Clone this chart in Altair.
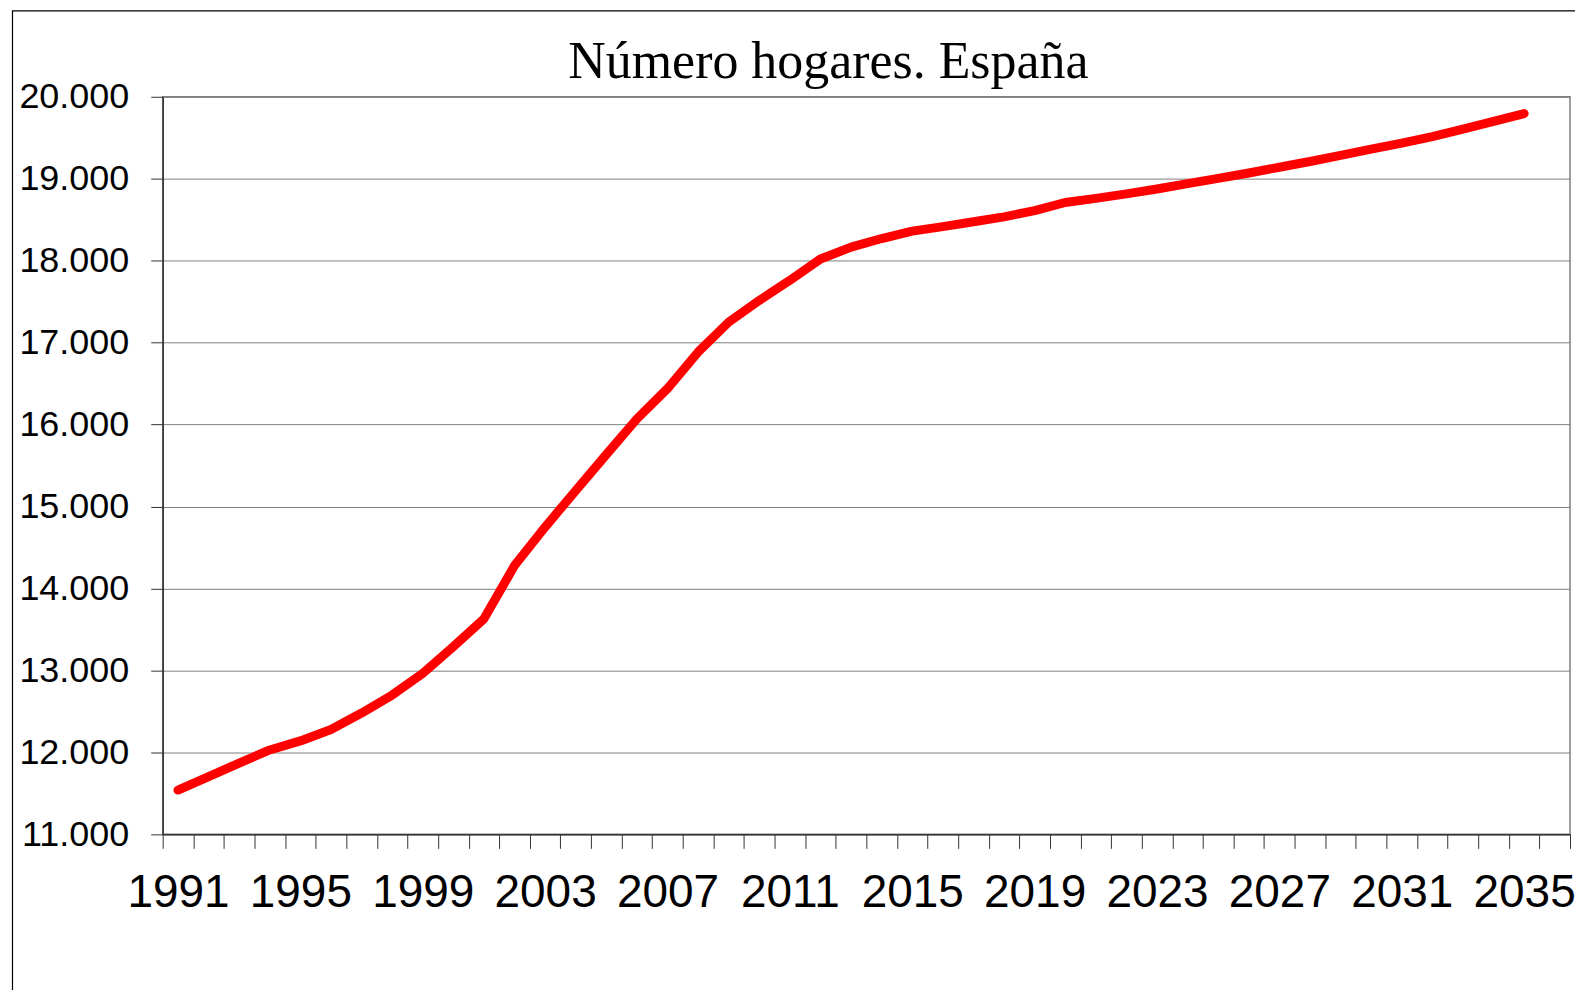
import altair as alt
import pandas as pd

years = list(range(1991, 2036))
hogares = [11540, 11705, 11870, 12030, 12140, 12280, 12480, 12700, 12965, 13290,
           13630, 14280, 14750, 15195, 15635, 16070, 16440, 16885, 17250, 17515,
           17760, 18020, 18165, 18270, 18360, 18415, 18475, 18535, 18610, 18710,
           18760, 18815, 18875, 18940, 19005, 19070, 19140, 19210, 19285, 19360,
           19435, 19515, 19605, 19700, 19795]
y_ticks = list(range(11000, 20001, 1000))
x_ticks = [1990.5 + i for i in range(47)]
title_text = "Número hogares. España"

df = pd.DataFrame({"year": years, "hogares": hogares})

W, H = 1410, 739
step = W / 46.0

line = alt.Chart(df).mark_line(
    color="#ff0000", strokeWidth=9, strokeCap="round", strokeJoin="round"
).encode(
    x=alt.X("year:Q",
            scale=alt.Scale(domain=[1990.5, 2036.5], nice=False, zero=False),
            axis=alt.Axis(values=x_ticks, title=None, grid=False,
                          labelExpr="(datum.value - 1990.5) % 4 == 0 && datum.value < 2036 ? toString(datum.value + 0.5) : ''",
                          labelOffset=step / 2, labelAlign="center", labelBaseline="top",
                          labelOverlap=False, labelFlush=False,
                          labelFont="Liberation Sans", labelFontSize=46, labelColor="#000",
                          labelPadding=22, tickSize=14, tickColor="#333", tickWidth=1,
                          domainColor="#333", domainWidth=1.5)),
    y=alt.Y("hogares:Q",
            scale=alt.Scale(domain=[11000, 20000], nice=False, zero=False),
            axis=alt.Axis(values=y_ticks, title=None, grid=True,
                          gridColor="#808080", gridWidth=1,
                          labelExpr="replace(format(datum.value, ','), ',', '.')",
                          labelFont="Liberation Sans", labelFontSize=36, labelColor="#000",
                          labelPadding=22, tickSize=12, tickColor="#333", tickWidth=1,
                          domainColor="#333", domainWidth=1.5)),
)

frame = alt.Chart(pd.DataFrame({"f": [0]})).mark_rect(
    filled=False, stroke="#000", strokeWidth=1.2, clip=False
).encode(
    x=alt.value(-150.5), x2=alt.value(1600), y=alt.value(-86), y2=alt.value(1000)
)

chart = alt.layer(line, frame).properties(
    width=W, height=H,
    title=alt.TitleParams(title_text, font="Liberation Serif", fontSize=52,
                          fontWeight="normal", color="#000", anchor="middle",
                          frame="group", dx=-38, dy=124, offset=4, baseline="alphabetic"),
    autosize=alt.AutoSizeParams(type="none"),
    padding={"left": 155, "top": 88, "right": 5, "bottom": 155},
    background="white",
).configure_view(stroke="#808080", strokeWidth=1.5)

chart.save("out.html", embed_options={"renderer": "svg", "actions": False})
